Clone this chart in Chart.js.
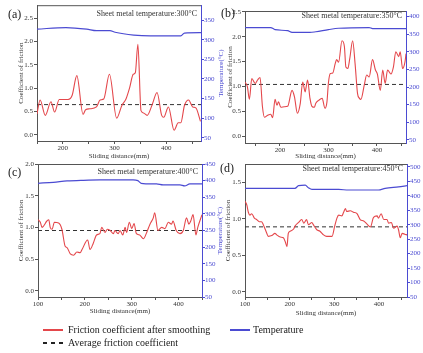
<!DOCTYPE html>
<html>
<head>
<meta charset="utf-8">
<script src="https://cdn.jsdelivr.net/npm/chart.js@4.4.0/dist/chart.umd.min.js"></script>
<style>
  body { margin: 0; background: #fff; width: 423px; height: 353px; position: relative; overflow: hidden;
         font-family: "Liberation Serif", "Times New Roman", serif; color: #222; }
  canvas { position: absolute; }
  .tag { position: absolute; font-size: 12px; line-height: 14px; color: #222; }
  .leg { position: absolute; font-size: 10px; line-height: 12px; color: #222; white-space: nowrap; }
  .swatch { position: absolute; width: 20px; }
</style>
</head>
<body>
<canvas id="chartA" width="228" height="166" style="left:0;top:0"></canvas>
<canvas id="chartB" width="209" height="166" style="left:214px;top:0"></canvas>
<canvas id="chartC" width="228" height="165" style="left:0;top:156px"></canvas>
<canvas id="chartD" width="209" height="165" style="left:214px;top:156px"></canvas>

<div class="tag" style="left:8px;top:7px">(a)</div>
<div class="tag" style="left:221px;top:6px">(b)</div>
<div class="tag" style="left:8px;top:165px">(c)</div>
<div class="tag" style="left:220px;top:161px">(d)</div>

<div class="swatch" style="left:43px;top:329px;height:2px;background:#e4474b"></div>
<div class="leg" style="left:68px;top:324px">Friction coefficient after smoothing</div>
<div class="swatch" style="left:230px;top:329px;height:2px;background:#4b4bd2"></div>
<div class="leg" style="left:253px;top:324px">Temperature</div>
<div class="swatch" style="left:43px;top:342px;height:2px;background:repeating-linear-gradient(to right,#222 0 4px,transparent 4px 8px)"></div>
<div class="leg" style="left:68px;top:337px">Average friction coefficient</div>

<script>
// (a) 300°C
const distA = [150,156,166,177,184,193,210,218,227,239,244,252,265,272,279,290,304,314,322,329,336,340,345,351,356,363,373,382,391,395,404,415,423,428,435,443,451,457,466];
const fricA = [0.45,0.75,0.42,0.71,0.49,0.76,0.76,0.85,1.27,0.44,0.54,0.56,0.60,0.75,0.77,1.30,0.36,0.63,0.77,1.01,1.30,1.33,1.94,0.52,0.47,0.42,0.66,0.91,0.42,0.38,0.60,0.10,0.26,0.26,0.63,0.75,0.60,0.58,0.29];
const tDistA = [150,206,246,265,291,301,337,369,428,435,467];
const tempA = [327,331,327,323,323,319,312,310,310,317,318];
const avgA = 0.65;

// (b) 350°C
const distB = [128,133,137,142,149,154,159,164,168,175,181,185,190,194,197,202,209,216,225,230,236,242,247,252,254,257,262,266,271,274,280,287,293,297,300,304,309,314,317,321,328,333,336,340,344,350,355,360,364,367,374,379,384,391,397,401,407,412,417,422,429,434,439,445,448,453,458,460];
const fricB = [1.09,0.99,0.74,1.16,1.06,1.13,1.18,0.59,0.38,0.42,0.44,0.37,0.74,0.62,0.69,0.58,0.59,0.60,0.92,0.79,0.46,0.66,1.09,0.89,0.98,1.13,0.76,0.60,0.58,0.66,0.72,0.76,0.56,0.69,1.07,1.26,1.27,1.46,1.54,1.49,1.92,1.80,1.39,1.36,1.56,1.92,1.46,0.86,0.76,0.74,1.03,1.23,1.19,1.54,1.33,1.25,0.92,1.33,1.06,1.33,1.25,1.39,1.70,1.60,1.70,1.36,1.50,1.66];
const tDistB = [128,181,190,216,225,262,274,300,321,384,391,460];
const tempB = [369,369,363,360,355,355,357,363,367,369,366,366];
const avgB = 1.04;

// (c) 400°C
const distC = [100,105,108.5,119,123,126,130,135,144,151,158,162,169,176,183,190,194,206,211,218,225,232,236,243,248,254,261,264,271,275,281,286,289,295,300,305,310,317,325,332,339,346,349,356,364,371,378,385,388,395,403,410,417,422,426,431,437,441,450];
const fricC = [1.12,1.08,1.00,1.10,1.12,1.00,0.97,1.08,1.07,0.97,0.70,0.68,0.58,0.56,0.61,0.60,0.65,0.80,0.65,0.75,0.88,0.90,1.00,0.92,0.97,0.95,0.90,0.95,0.90,0.95,0.88,1.00,0.92,1.08,0.98,1.06,0.90,0.88,0.82,0.92,1.05,1.15,1.23,0.95,1.00,0.98,1.08,1.05,1.10,0.95,0.90,0.95,1.15,1.05,1.10,1.20,0.88,1.00,1.20];
const tDistC = [100,133,162,197,232,303,313,320,353,367,403,413,424,450];
const tempC = [392,395,399,401,402,402,400,392,390,387,387,384,390,390];
const avgC = 0.95;

// (d) 450°C
const distD = [100,104,107.5,111,115,121,126,132,137,141,145,149,152,160,167,171,179,186,190,194,197,201,209,212,220,227,232,238,242,250,253,261,268,276,283,295,301,306,310,317,321,325,328,336,343,351,358,366,373,381,388,396,399,405,411,418,422,428,433,441,444,448,452,458,463];
const fricD = [1.24,1.19,1.09,1.05,1.07,1.01,0.99,0.96,0.96,0.92,0.86,0.80,0.76,0.77,0.80,0.78,0.75,0.74,0.69,0.62,0.80,0.83,0.86,0.90,0.95,0.99,0.94,0.99,0.92,0.95,0.92,0.85,0.83,0.78,0.76,0.76,0.90,1.01,1.05,1.04,1.09,1.14,1.10,1.11,1.09,1.07,0.99,0.97,0.93,0.89,1.02,1.04,1.01,1.07,0.99,0.99,0.94,0.95,0.87,0.90,0.85,0.74,0.80,0.79,0.78];
const tDistD = [100,212,220,235,242,250,310,332,399,414,444,463];
const tempD = [426,426,435,437,428,422,422,420,420,426,431,435];
const avgD = 0.89;

const SERIF = '"Liberation Serif", "Times New Roman", serif';
const RED = '#e4474b';
const BLUE = '#4b4bd2';
const AXIS = '#555';
const TXT = '#333';
Chart.defaults.font.family = SERIF;

// top frame line, note text and the right axis title (reads bottom-up like the original)
const panelText = {
  id: 'panelText',
  afterDraw(chart, args, opts) {
    const { ctx, chartArea: a } = chart;
    ctx.save();
    ctx.strokeStyle = AXIS;
    ctx.lineWidth = 1;
    ctx.beginPath();
    ctx.moveTo(a.left, a.top + 0.5);
    ctx.lineTo(a.right, a.top + 0.5);
    ctx.stroke();
    ctx.fillStyle = TXT;
    ctx.font = '8px ' + SERIF;
    ctx.textAlign = 'right';
    ctx.textBaseline = 'middle';
    ctx.fillText(opts.note, a.right - 4, a.top + opts.noteDy);
    if (opts.rightTitleX) {
      ctx.translate(opts.rightTitleX, (a.top + a.bottom) / 2);
      ctx.rotate(-Math.PI / 2);
      ctx.textAlign = 'center';
      ctx.fillStyle = BLUE;
      ctx.font = '7px ' + SERIF;
      ctx.fillText('Temperature(°C)', 0, 0);
    }
    ctx.restore();
  }
};

function makePanel(id, dist, fric, tDist, temp, avg, p) {
  new Chart(document.getElementById(id), {
    type: 'line',
    data: {
      datasets: [
        { label: 'Friction coefficient after smoothing', data: dist.map((d, i) => ({ x: d, y: fric[i] })),
          borderColor: RED, borderWidth: 1.1, pointRadius: 0, cubicInterpolationMode: 'monotone', yAxisID: 'y' },
        { label: 'Average friction coefficient', data: [{ x: p.xMin, y: avg }, { x: p.xMax, y: avg }],
          borderColor: '#333', borderWidth: 1, borderDash: [4, 3], pointRadius: 0, yAxisID: 'y' },
        { label: 'Temperature', data: tDist.map((d, i) => ({ x: d, y: temp[i] })),
          borderColor: BLUE, borderWidth: 1.2, pointRadius: 0, cubicInterpolationMode: 'monotone', yAxisID: 'y2' }
      ]
    },
    options: {
      responsive: false,
      animation: false,
      events: [],
      layout: { padding: { top: p.padTop, left: 0, right: 0, bottom: 0 } },
      plugins: {
        legend: { display: false },
        tooltip: { enabled: false },
        panelText: { note: p.note, noteDy: p.noteDy, rightTitleX: p.rightTitleX }
      },
      scales: {
        x: {
          type: 'linear', min: p.xMin, max: p.xMax,
          afterFit: s => { s.height = p.xH; },
          border: { color: AXIS, width: 1 },
          grid: { drawOnChartArea: false, tickLength: 3, color: AXIS },
          ticks: { stepSize: 50, includeBounds: false, maxRotation: 0, autoSkip: false, padding: 0,
                   color: TXT, font: { size: 7 }, callback: v => (v % 100 === 0 ? v : '') },
          title: { display: true, text: 'Sliding distance(mm)', color: TXT, font: { size: 7 },
                   padding: { top: 0, bottom: p.xTitlePad } }
        },
        y: {
          position: 'left', min: p.yMin, max: p.yMax,
          afterFit: s => { s.width = p.leftW; },
          border: { color: AXIS, width: 1 },
          grid: { drawOnChartArea: false, tickLength: 3, color: AXIS },
          ticks: { stepSize: 0.5, includeBounds: false, padding: 1, color: TXT, font: { size: 7 },
                   callback: v => v.toFixed(1) },
          title: { display: true, text: 'Coefficient of friction', color: TXT, font: { size: 7 },
                   padding: { top: p.yTitlePad, bottom: 0 } }
        },
        y2: {
          position: 'right', min: p.tMin, max: p.tMax,
          afterFit: s => { s.width = p.rightW; },
          border: { color: BLUE, width: 1 },
          grid: { drawOnChartArea: false, tickLength: 3, color: BLUE },
          ticks: { stepSize: 50, includeBounds: false, padding: 0, color: BLUE, font: { size: 7 } }
        }
      }
    },
    plugins: [panelText]
  });
}

makePanel('chartA', distA, fricA, tDistA, tempA, avgA, {
  xMin: 150, xMax: 467, yMin: -0.13, yMax: 2.78, tMin: 42, tMax: 388,
  padTop: 5, leftW: 37, rightW: 27, xH: 25, yTitlePad: 17, xTitlePad: 6,
  note: 'Sheet metal temperature:300°C', noteDy: 9, rightTitleX: 221
});
makePanel('chartB', distB, fricB, tDistB, tempB, avgB, {
  xMin: 128, xMax: 460, yMin: -0.14, yMax: 2.52, tMin: 41, tMax: 416,
  padTop: 11, leftW: 31, rightW: 17, xH: 23, yTitlePad: 12, xTitlePad: 6,
  note: 'Sheet metal temperature:350°C', noteDy: 5
});
makePanel('chartC', distC, fricC, tDistC, tempC, avgC, {
  xMin: 100, xMax: 450, yMin: -0.1, yMax: 2.0, tMin: 50, tMax: 450,
  padTop: 8, leftW: 38, rightW: 26, xH: 24, yTitlePad: 17, xTitlePad: 6,
  note: 'Sheet metal temperature:400°C', noteDy: 8, rightTitleX: 220
});
makePanel('chartD', distD, fricD, tDistD, tempD, avgD, {
  xMin: 100, xMax: 463, yMin: -0.07, yMax: 1.75, tMin: 50, tMax: 510,
  padTop: 8, leftW: 31, rightW: 16, xH: 24, yTitlePad: 10, xTitlePad: 4,
  note: 'Sheet metal temperature:450°C', noteDy: 5
});
</script>
</body>
</html>
